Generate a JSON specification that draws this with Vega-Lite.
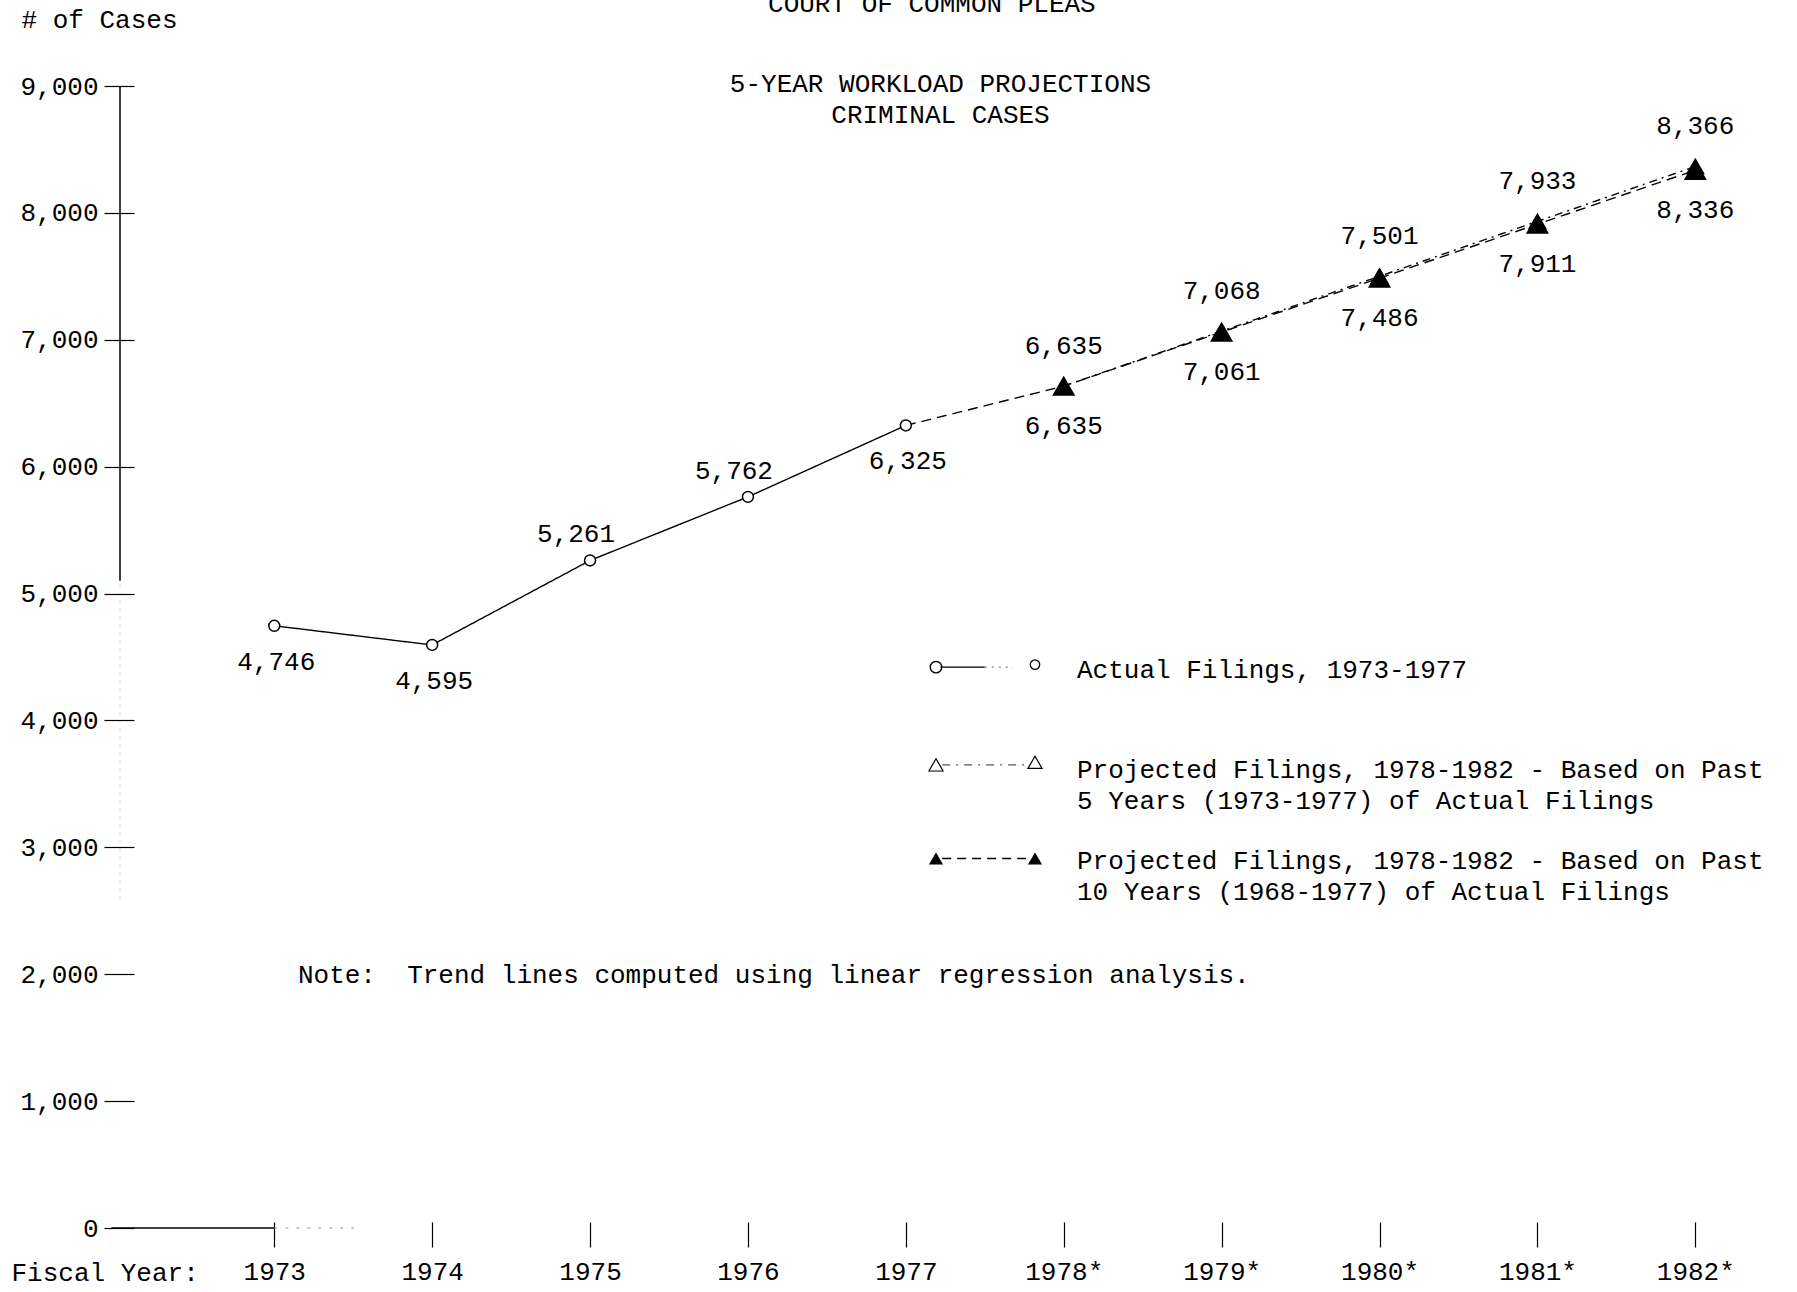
{
  "$schema": "https://vega.github.io/schema/vega-lite/v6.json",
  "width": 1677,
  "height": 1142,
  "autosize": "none",
  "padding": {"left": 120, "top": 86, "right": 0, "bottom": 64},
  "background": "white",
  "config": {
    "view": {"stroke": null},
    "font": "Liberation Mono",
    "text": {"font": "Liberation Mono"}
  },
  "title": {
    "text": ["5-YEAR WORKLOAD PROJECTIONS", "CRIMINAL CASES"],
    "font": "Liberation Mono",
    "fontSize": 26,
    "fontWeight": "normal",
    "color": "black",
    "lineHeight": 31,
    "anchor": "middle",
    "frame": "group",
    "baseline": "bottom",
    "dx": -18,
    "offset": -163
  },
  "datasets": {
    "filings": [
      {"series": "Actual", "year": 1973, "cases": 4746},
      {"series": "Actual", "year": 1974, "cases": 4595},
      {"series": "Actual", "year": 1975, "cases": 5261},
      {"series": "Actual", "year": 1976, "cases": 5762},
      {"series": "Actual", "year": 1977, "cases": 6325},
      {"series": "Proj5", "year": 1978, "cases": 6635},
      {"series": "Proj5", "year": 1979, "cases": 7068},
      {"series": "Proj5", "year": 1980, "cases": 7501},
      {"series": "Proj5", "year": 1981, "cases": 7933},
      {"series": "Proj5", "year": 1982, "cases": 8366},
      {"series": "Proj10", "year": 1977, "cases": 6325},
      {"series": "Proj10", "year": 1978, "cases": 6635},
      {"series": "Proj10", "year": 1979, "cases": 7061},
      {"series": "Proj10", "year": 1980, "cases": 7486},
      {"series": "Proj10", "year": 1981, "cases": 7911},
      {"series": "Proj10", "year": 1982, "cases": 8336}
    ]
  },
  "layer": [
    {
      "data": {"values": [{"heading": "COURT OF COMMON PLEAS"}]},
      "mark": {"type": "text", "fontSize": 26, "color": "black", "align": "center", "baseline": "middle"},
      "encoding": {
        "x": {"datum": 1977.165, "type": "quantitative"},
        "y": {"datum": 9646, "type": "quantitative"},
        "text": {"field": "heading"}
      }
    },
    {
      "data": {"values": [{}]},
      "mark": {"type": "rule", "color": "black", "strokeWidth": 1.5},
      "encoding": {
        "x": {"datum": 1972.023, "type": "quantitative"},
        "y": {"datum": 5100, "type": "quantitative"},
        "y2": {"datum": 9000}
      }
    },
    {
      "data": {"values": [{}]},
      "mark": {"type": "rule", "color": "#aaaaaa", "strokeWidth": 1, "strokeDash": [1, 7]},
      "encoding": {
        "x": {"datum": 1972.023, "type": "quantitative"},
        "y": {"datum": 2600, "type": "quantitative"},
        "y2": {"datum": 5100}
      }
    },
    {
      "data": {"values": [{}]},
      "mark": {"type": "rule", "color": "black", "strokeWidth": 1.5},
      "encoding": {
        "x": {"datum": 1971.97, "type": "quantitative"},
        "x2": {"datum": 1973},
        "y": {"datum": 0, "type": "quantitative"}
      }
    },
    {
      "data": {"values": [{}]},
      "mark": {"type": "rule", "color": "#999999", "strokeWidth": 1, "strokeDash": [3, 8]},
      "encoding": {
        "x": {"datum": 1973, "type": "quantitative"},
        "x2": {"datum": 1973.55},
        "y": {"datum": 0, "type": "quantitative"}
      }
    },
    {
      "data": {"name": "filings"},
      "mark": {"type": "line", "strokeWidth": 1.4, "color": "black"},
      "encoding": {
        "x": {
          "field": "year",
          "type": "quantitative",
          "scale": {"domain": [1972.023, 1982.644], "nice": false, "zero": false},
          "axis": {
            "title": "Fiscal Year:",
            "values": [1973, 1974, 1975, 1976, 1977, 1978, 1979, 1980, 1981, 1982],
            "labelExpr": "datum.value >= 1978 ? datum.value + '*' : '' + datum.value",
            "domain": false,
            "grid": false,
            "offset": -6,
            "tickSize": 25,
            "tickColor": "black",
            "tickWidth": 1.2,
            "labelPadding": 11,
            "labelFont": "Liberation Mono",
            "labelFontSize": 26,
            "labelColor": "black",
            "labelFlush": false,
            "labelOverlap": false,
            "titleFont": "Liberation Mono",
            "titleFontSize": 26,
            "titleFontWeight": "normal",
            "titleColor": "black",
            "titleAnchor": "start",
            "titleAlign": "left",
            "titleBaseline": "middle",
            "titleX": -109,
            "titleY": 50
          }
        },
        "y": {
          "field": "cases",
          "type": "quantitative",
          "scale": {"domain": [0, 9000], "nice": false},
          "axis": {
            "title": "# of Cases",
            "values": [0, 1000, 2000, 3000, 4000, 5000, 6000, 7000, 8000, 9000],
            "format": ",d",
            "domain": false,
            "grid": false,
            "offset": -14,
            "tickSize": 30,
            "tickColor": "black",
            "tickWidth": 1.2,
            "labelPadding": 6,
            "labelFont": "Liberation Mono",
            "labelFontSize": 26,
            "labelColor": "black",
            "labelFlush": false,
            "labelOverlap": false,
            "titleFont": "Liberation Mono",
            "titleFontSize": 26,
            "titleFontWeight": "normal",
            "titleColor": "black",
            "titleAngle": 0,
            "titleAnchor": "start",
            "titleAlign": "left",
            "titleBaseline": "middle",
            "titleX": -113,
            "titleY": -67
          }
        },
        "detail": {"field": "series", "type": "nominal"},
        "strokeDash": {
          "field": "series",
          "type": "nominal",
          "scale": {"domain": ["Actual", "Proj5", "Proj10"], "range": [[1, 0], [8, 5, 2, 5], [10, 6]]},
          "legend": null
        }
      }
    },
    {
      "data": {"name": "filings"},
      "transform": [{"filter": "datum.series != 'Proj10' || datum.year >= 1978"}],
      "mark": {"type": "point", "filled": true, "stroke": "black", "strokeWidth": 1.5, "opacity": 1},
      "encoding": {
        "x": {"field": "year", "type": "quantitative"},
        "y": {"field": "cases", "type": "quantitative"},
        "shape": {
          "field": "series",
          "type": "nominal",
          "scale": {"domain": ["Actual", "Proj5", "Proj10"], "range": ["circle", "triangle-up", "triangle-up"]},
          "legend": null
        },
        "fill": {
          "field": "series",
          "type": "nominal",
          "scale": {"domain": ["Actual", "Proj5", "Proj10"], "range": ["white", "white", "black"]},
          "legend": null
        },
        "size": {
          "field": "series",
          "type": "nominal",
          "scale": {"domain": ["Actual", "Proj5", "Proj10"], "range": [120, 420, 190]},
          "legend": null
        }
      }
    },
    {
      "data": {"name": "filings"},
      "transform": [{"filter": "datum.series == 'Actual' && datum.year != 1975 && datum.year != 1976"}],
      "mark": {"type": "text", "fontSize": 26, "color": "black", "baseline": "middle", "dy": 36, "dx": 2},
      "encoding": {
        "x": {"field": "year", "type": "quantitative"},
        "y": {"field": "cases", "type": "quantitative"},
        "text": {"field": "cases", "type": "quantitative", "format": ","}
      }
    },
    {
      "data": {"name": "filings"},
      "transform": [{"filter": "datum.series == 'Actual' && (datum.year == 1975 || datum.year == 1976)"}],
      "mark": {"type": "text", "fontSize": 26, "color": "black", "baseline": "middle", "dy": -26, "dx": -14},
      "encoding": {
        "x": {"field": "year", "type": "quantitative"},
        "y": {"field": "cases", "type": "quantitative"},
        "text": {"field": "cases", "type": "quantitative", "format": ","}
      }
    },
    {
      "data": {"name": "filings"},
      "transform": [{"filter": "datum.series == 'Proj5'"}],
      "mark": {"type": "text", "fontSize": 26, "color": "black", "baseline": "middle", "dy": -40},
      "encoding": {
        "x": {"field": "year", "type": "quantitative"},
        "y": {"field": "cases", "type": "quantitative"},
        "text": {"field": "cases", "type": "quantitative", "format": ","}
      }
    },
    {
      "data": {"name": "filings"},
      "transform": [{"filter": "datum.series == 'Proj10' && datum.year >= 1978"}],
      "mark": {"type": "text", "fontSize": 26, "color": "black", "baseline": "middle", "dy": 40},
      "encoding": {
        "x": {"field": "year", "type": "quantitative"},
        "y": {"field": "cases", "type": "quantitative"},
        "text": {"field": "cases", "type": "quantitative", "format": ","}
      }
    },
    {
      "data": {"values": [{"note": "Note:\u00a0 Trend lines computed using linear regression analysis."}]},
      "mark": {"type": "text", "fontSize": 26, "color": "black", "align": "left", "baseline": "middle"},
      "encoding": {
        "x": {"datum": 1973.15, "type": "quantitative"},
        "y": {"datum": 1990, "type": "quantitative"},
        "text": {"field": "note"}
      }
    },
    {
      "data": {"values": [{}]},
      "mark": {"type": "rule", "color": "black", "strokeWidth": 1.4},
      "encoding": {
        "x": {"datum": 1977.22, "type": "quantitative"},
        "x2": {"datum": 1977.5},
        "y": {"datum": 4420, "type": "quantitative"}
      }
    },
    {
      "data": {"values": [{}]},
      "mark": {"type": "rule", "color": "#888888", "strokeWidth": 1.2, "strokeDash": [2, 5]},
      "encoding": {
        "x": {"datum": 1977.5, "type": "quantitative"},
        "x2": {"datum": 1977.68},
        "y": {"datum": 4420, "type": "quantitative"}
      }
    },
    {
      "data": {"values": [{}]},
      "mark": {"type": "point", "shape": "circle", "filled": false, "color": "black", "size": 130, "strokeWidth": 1.4, "opacity": 1},
      "encoding": {
        "x": {"datum": 1977.191, "type": "quantitative"},
        "y": {"datum": 4420, "type": "quantitative"}
      }
    },
    {
      "data": {"values": [{}]},
      "mark": {"type": "point", "shape": "circle", "filled": false, "color": "black", "size": 90, "strokeWidth": 1.2, "opacity": 1},
      "encoding": {
        "x": {"datum": 1977.818, "type": "quantitative"},
        "y": {"datum": 4440, "type": "quantitative"}
      }
    },
    {
      "data": {"values": [{}]},
      "mark": {"type": "rule", "color": "#555555", "strokeWidth": 1.3, "strokeDash": [8, 6, 2, 6]},
      "encoding": {
        "x": {"datum": 1977.23, "type": "quantitative"},
        "x2": {"datum": 1977.78},
        "y": {"datum": 3650, "type": "quantitative"}
      }
    },
    {
      "data": {"values": [{}]},
      "mark": {"type": "point", "shape": "triangle-up", "filled": false, "color": "black", "size": 200, "strokeWidth": 1.2, "opacity": 1},
      "encoding": {
        "x": {"datum": 1977.191, "type": "quantitative"},
        "y": {"datum": 3650, "type": "quantitative"}
      }
    },
    {
      "data": {"values": [{}]},
      "mark": {"type": "point", "shape": "triangle-up", "filled": false, "color": "black", "size": 200, "strokeWidth": 1.2, "opacity": 1},
      "encoding": {
        "x": {"datum": 1977.818, "type": "quantitative"},
        "y": {"datum": 3670, "type": "quantitative"}
      }
    },
    {
      "data": {"values": [{}]},
      "mark": {"type": "rule", "color": "black", "strokeWidth": 1.4, "strokeDash": [9, 6]},
      "encoding": {
        "x": {"datum": 1977.23, "type": "quantitative"},
        "x2": {"datum": 1977.79},
        "y": {"datum": 2912, "type": "quantitative"}
      }
    },
    {
      "data": {"values": [{}]},
      "mark": {"type": "point", "shape": "triangle-up", "filled": true, "color": "black", "size": 200, "opacity": 1},
      "encoding": {
        "x": {"datum": 1977.191, "type": "quantitative"},
        "y": {"datum": 2912, "type": "quantitative"}
      }
    },
    {
      "data": {"values": [{}]},
      "mark": {"type": "point", "shape": "triangle-up", "filled": true, "color": "black", "size": 200, "opacity": 1},
      "encoding": {
        "x": {"datum": 1977.818, "type": "quantitative"},
        "y": {"datum": 2912, "type": "quantitative"}
      }
    },
    {
      "data": {"values": [{"label": "Actual Filings, 1973-1977"}]},
      "mark": {"type": "text", "fontSize": 26, "color": "black", "align": "left", "baseline": "middle"},
      "encoding": {
        "x": {"datum": 1978.084, "type": "quantitative"},
        "y": {"datum": 4400, "type": "quantitative"},
        "text": {"field": "label"}
      }
    },
    {
      "data": {"values": [{"label": "Projected Filings, 1978-1982 - Based on Past\n5 Years (1973-1977) of Actual Filings"}]},
      "mark": {"type": "text", "fontSize": 26, "color": "black", "align": "left", "baseline": "top", "dy": -12, "lineBreak": "\n", "lineHeight": 31},
      "encoding": {
        "x": {"datum": 1978.084, "type": "quantitative"},
        "y": {"datum": 3620, "type": "quantitative"},
        "text": {"field": "label"}
      }
    },
    {
      "data": {"values": [{"label": "Projected Filings, 1978-1982 - Based on Past\n10 Years (1968-1977) of Actual Filings"}]},
      "mark": {"type": "text", "fontSize": 26, "color": "black", "align": "left", "baseline": "top", "dy": -12, "lineBreak": "\n", "lineHeight": 31},
      "encoding": {
        "x": {"datum": 1978.084, "type": "quantitative"},
        "y": {"datum": 2900, "type": "quantitative"},
        "text": {"field": "label"}
      }
    }
  ]
}
